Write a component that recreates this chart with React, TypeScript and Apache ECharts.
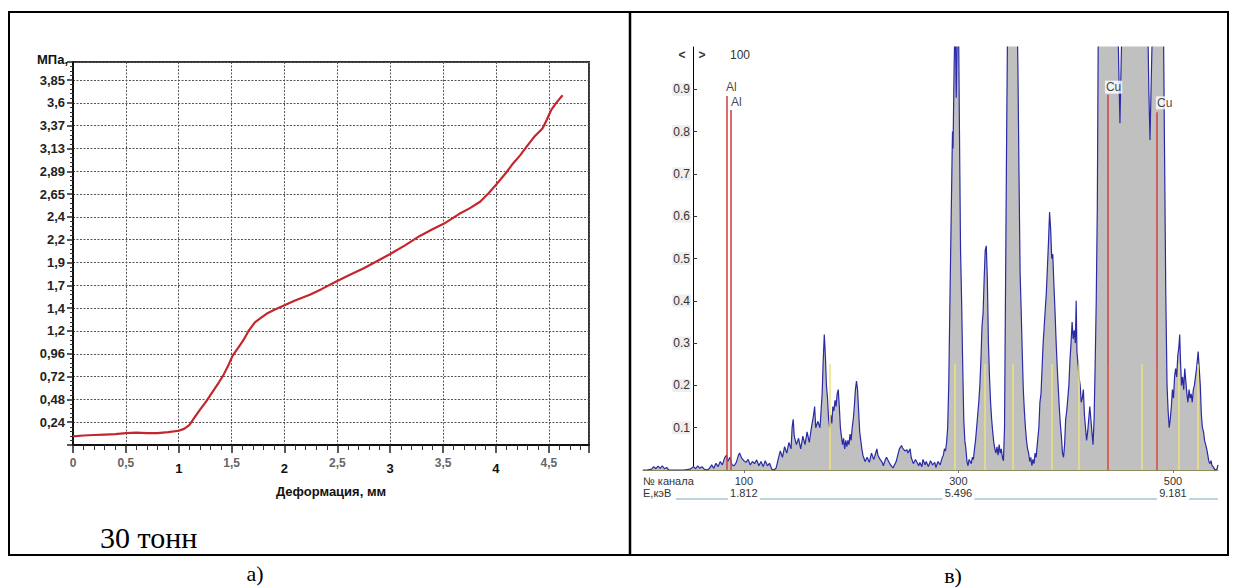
import { useEffect, useRef } from 'react';
import * as echarts from 'echarts';

// ---------- Panel a) : stress vs deformation ----------
const deformation = [0, 0.1, 0.2, 0.3, 0.4, 0.5, 0.6, 0.7, 0.8, 0.9, 1.0, 1.05, 1.1, 1.15, 1.2, 1.26, 1.32, 1.38, 1.42, 1.47, 1.51, 1.56, 1.61, 1.66, 1.72, 1.78, 1.83, 1.9, 2.0, 2.1, 2.24, 2.35, 2.49, 2.6, 2.75, 2.9, 3.0, 3.14, 3.28, 3.4, 3.51, 3.65, 3.75, 3.85, 3.93, 4.01, 4.1, 4.16, 4.23, 4.29, 4.36, 4.44, 4.48, 4.52, 4.57, 4.63];
const stress = [0.09, 0.1, 0.105, 0.11, 0.115, 0.125, 0.13, 0.125, 0.125, 0.135, 0.15, 0.17, 0.21, 0.29, 0.37, 0.46, 0.56, 0.66, 0.73, 0.84, 0.94, 1.02, 1.1, 1.2, 1.29, 1.34, 1.38, 1.42, 1.47, 1.52, 1.58, 1.64, 1.72, 1.78, 1.86, 1.95, 2.01, 2.1, 2.2, 2.27, 2.33, 2.43, 2.49, 2.56, 2.65, 2.75, 2.87, 2.96, 3.05, 3.14, 3.24, 3.33, 3.42, 3.52, 3.6, 3.68];
const stressTickLabels = ['0,24', '0,48', '0,72', '0,96', '1,2', '1,4', '1,7', '1,9', '2,2', '2,4', '2,65', '2,89', '3,13', '3,37', '3,6', '3,85'];
const deformTickLabels = ['0', '0,5', '1', '1,5', '2', '2,5', '3', '3,5', '4', '4,5'];

// ---------- Panel в) : EDS spectrum ----------
const spectrum: [number, number][] = [
  [6, 0], [10, 0], [14, 0.002], [16, 0.008], [18, 0.003], [20, 0.009], [22, 0.004], [24, 0.01], [26, 0.003], [28, 0.006], [30, 0], [36, 0], [44, 0], [50, 0.002], [53, 0.008], [55, 0.003], [57, 0.01], [59, 0.004], [61, 0.008], [63, 0.002], [66, 0], [68, 0.004],
  [70, 0.012], [72, 0.004], [74, 0.016], [76, 0.008], [78, 0.02], [80, 0.012], [82, 0.028], [84, 0.036], [85, 0.02], [87, 0.03], [89, 0.012], [91, 0.01], [93, 0.018], [95, 0.035], [96, 0.04], [98, 0.028], [100, 0.022], [102, 0.018], [104, 0.025], [106, 0.012], [108, 0.02], [110, 0.015], [112, 0.024], [114, 0.01], [116, 0.02], [118, 0.008], [120, 0.022], [122, 0.01], [124, 0.016], [126, 0.002], [128, 0], [130, 0.004],
  [132, 0.025], [134, 0.045], [136, 0.03], [138, 0.055], [140, 0.04], [142, 0.065], [144, 0.05], [145, 0.1], [146, 0.12], [147, 0.08], [149, 0.06], [151, 0.075], [153, 0.05], [155, 0.08], [157, 0.06], [159, 0.09], [161, 0.065], [163, 0.1], [165, 0.13], [166, 0.15], [167, 0.1], [169, 0.115], [171, 0.1], [172, 0.14], [173, 0.18], [174, 0.26], [175, 0.32], [176, 0.27], [177, 0.2],
  [178, 0.17], [179, 0.12], [180, 0.1], [181, 0.13], [182, 0.11], [183, 0.15], [184, 0.14], [185, 0.165], [186, 0.15], [187, 0.18], [188, 0.19], [189, 0.15], [190, 0.1], [191, 0.08], [192, 0.06], [193, 0.075], [194, 0.05], [195, 0.07], [196, 0.055], [197, 0.07], [198, 0.06], [199, 0.085], [200, 0.07], [201, 0.1], [202, 0.12], [203, 0.15], [204, 0.19], [205, 0.21], [206, 0.19], [207, 0.14], [208, 0.09], [209, 0.07], [210, 0.05], [211, 0.035],
  [213, 0.02], [215, 0.03], [217, 0.018], [219, 0.04], [221, 0.025], [222, 0.032], [224, 0.05], [225, 0.035], [227, 0.025], [229, 0.018], [230, 0.01], [232, 0.025], [233, 0.03], [235, 0.02], [236, 0.015], [238, 0.008], [239, 0.005], [241, 0.015], [242, 0.02], [244, 0.04], [245, 0.05], [247, 0.058], [248, 0.052], [250, 0.045], [252, 0.048], [253, 0.04], [255, 0.05], [256, 0.03], [258, 0.015], [260, 0.025], [261, 0.02], [263, 0.01], [264, 0.018], [266, 0.008], [267, 0.025], [269, 0.012], [270, 0.02], [272, 0.008], [274, 0.022], [276, 0.012], [278, 0.018], [279, 0.006], [281, 0.02], [283, 0.012], [285, 0.03], [286, 0.035], [287, 0.05], [288, 0.045], [289, 0.065], [290, 0.1],
  [291, 0.2], [292, 0.38], [293, 0.55], [294, 0.72], [294.5, 0.8], [295, 0.76], [296, 0.95], [297, 1.08], [298, 0.88], [299, 1.05], [300, 1.1], [301, 0.8], [302, 0.52], [303, 0.4], [304, 0.25], [305, 0.12], [306, 0.07], [307, 0.05], [308, 0.02], [309, 0.01], [310, 0.025],
  [312, 0.015], [313, 0.03], [314, 0.025], [315, 0.05], [316, 0.07], [317, 0.1], [318, 0.13], [319, 0.16], [320, 0.2], [321, 0.26], [322, 0.34], [323, 0.37], [324, 0.45], [325, 0.52], [326, 0.53], [327, 0.45], [328, 0.3], [329, 0.22], [330, 0.16], [331, 0.12], [332, 0.09], [333, 0.065], [334, 0.05], [335, 0.04], [336, 0.055], [337, 0.035], [338, 0.06], [339, 0.04], [340, 0.05], [341, 0.03], [342, 0.022],
  [343, 0.1], [344, 0.45], [345, 0.8], [346, 1.1], [348, 1.3], [350, 1.4], [352, 1.35], [354, 1.2], [355.5, 0.95], [356.5, 0.7], [357.5, 0.47], [358.5, 0.38], [359.5, 0.28], [360.5, 0.19], [361.5, 0.14], [362.5, 0.1], [363.5, 0.07], [364.5, 0.05], [365.5, 0.04], [366.5, 0.02], [367.5, 0.03], [368.5, 0.01], [369.5, 0.025], [370.5, 0.015], [371.5, 0.04], [372.5, 0.03], [373.5, 0.06],
  [375, 0.1], [376, 0.16], [377, 0.18], [378, 0.24], [379, 0.3], [380, 0.34], [381, 0.38], [382, 0.42], [383, 0.48], [384, 0.54], [385, 0.61], [386, 0.57], [387, 0.5], [388, 0.51], [389, 0.44], [390, 0.38], [391, 0.31], [392, 0.25], [393, 0.2], [394, 0.15], [395, 0.11], [396, 0.08], [397, 0.04], [398, 0.03],
  [399, 0.06], [400, 0.12], [401, 0.14], [402, 0.17], [403, 0.2], [404, 0.26], [405, 0.3], [406, 0.35], [407, 0.31], [408, 0.33], [409, 0.3], [409.8, 0.4], [410.5, 0.28], [411.5, 0.25], [412.5, 0.22], [413.5, 0.2], [414.5, 0.16], [415.5, 0.17], [416.5, 0.19], [417.5, 0.13], [418.5, 0.1], [419.5, 0.07], [420.5, 0.09], [421.5, 0.12], [422.5, 0.15], [423.5, 0.12], [424.5, 0.09], [425.5, 0.06], [426.5, 0.12], [427.5, 0.25], [428.5, 0.4], [429.5, 0.62], [430.5, 1.1],
  [431.5, 1.3], [436, 1.5], [442, 1.6], [447, 1.3], [449.5, 0.95], [450.6, 0.82], [452, 1.0], [456, 1.4], [462, 1.7], [468, 1.8], [474, 1.5], [477.5, 0.9], [478.6, 0.78], [480, 0.95], [484, 1.4], [488, 1.3], [491, 1.1], [492, 0.8], [493.3, 0.42], [494.5, 0.2], [495.5, 0.14], [496.5, 0.1], [497.5, 0.12], [498.5, 0.15], [499.5, 0.19], [500.5, 0.17], [501.5, 0.22], [502.5, 0.24], [503.5, 0.22], [504.5, 0.27], [505.5, 0.29], [506.3, 0.32], [507, 0.26], [508, 0.2], [509, 0.22], [510, 0.19], [511, 0.24], [512, 0.21], [513, 0.18], [514, 0.16], [515, 0.19], [516, 0.17], [517, 0.18], [518, 0.16], [519, 0.19], [520, 0.2], [521, 0.22], [522, 0.24], [523.5, 0.28], [524.5, 0.24], [525.5, 0.2], [526.5, 0.13], [527.5, 0.1], [528.5, 0.09], [529.5, 0.07], [530.5, 0.06], [531.5, 0.05], [532.5, 0.035], [533.5, 0.02], [534.5, 0.015], [535.5, 0.022], [536.5, 0.01], [537.5, 0.008], [538.5, 0.003], [539.5, 0], [541, 0.002], [542, 0.012],
];
const channelTicks = [100, 300, 500];
const energyTicks = ['1.812', '5.496', '9.181'];
const spectrumYTicks = [0.1, 0.2, 0.3, 0.4, 0.5, 0.6, 0.7, 0.8, 0.9];
const yellowLineChannels = [180.3, 296.8, 324.8, 350.9, 387.2, 412.4, 439.4, 471.1, 485.1, 505.8, 523.3];
const yellowLineTop = 0.25;
const elementNames = ['Al', 'Al', 'Cu', 'Cu'];
const elementChannels = [84.3, 88, 439.4, 485.1];
const elementLineTops = [0.884, 0.851, 0.887, 0.846];
const elementLabelChannels = [82.4, 87.1, 436.6, 484.2];
const elementLabelHeights = [0.905, 0.87, 0.905, 0.868];

const SANS = '"Liberation Sans", Arial, sans-serif';
const SERIF = '"Liberation Serif", "Times New Roman", serif';

function txt(text: string, x: number, y: number, font: string, align: string = 'left', fill = '#000') {
  return {
    type: 'text', x, y, silent: true,
    style: { text, font, fill, align, textAlign: align, verticalAlign: 'middle', textVerticalAlign: 'middle' },
  };
}
function ln(x1: number, y1: number, x2: number, y2: number, stroke = '#000', lineWidth = 2) {
  return { type: 'line', silent: true, shape: { x1, y1, x2, y2 }, style: { stroke, lineWidth } };
}

export default function App() {
  const ref = useRef<HTMLDivElement>(null);
  useEffect(() => {
    const chart = echarts.init(ref.current!, null, { renderer: 'svg' });
    const option: any = {
      animation: false,
      backgroundColor: '#fff',
      grid: [
        { left: 73, top: 62, width: 516, height: 383, show: true, borderColor: '#333', borderWidth: 2, backgroundColor: 'transparent' },
        { left: 643, top: 47, width: 575, height: 423 },
      ],
      xAxis: [
        {
          gridIndex: 0, type: 'value', min: 0, max: 4.88, interval: 0.5,
          axisLine: { lineStyle: { color: '#111', width: 2 } },
          axisTick: { length: 8, lineStyle: { color: '#222', width: 1.5 } },
          minorTick: { show: true, splitNumber: 5, length: 5, lineStyle: { color: '#333', width: 1 } },
          splitLine: { show: true, lineStyle: { type: [2, 1.5], color: '#555', width: 1 } },
          axisLabel: {
            margin: 12,
            formatter: (v: number) => {
              const i = Math.round(v / 0.5);
              if (Math.abs(v - i * 0.5) > 1e-6 || i >= deformTickLabels.length) return '';
              const s = deformTickLabels[i];
              return i > 0 && i % 2 === 0 ? `{i|${s}}` : `{h|${s}}`;
            },
            rich: {
              h: { fontFamily: SANS, fontSize: 12, fontWeight: 'bold', color: '#666' },
              i: { fontFamily: SANS, fontSize: 13, fontWeight: 'bold', color: '#111', padding: [5, 0, 0, 0] },
            },
          },
        },
        {
          gridIndex: 1, type: 'value', min: 6, max: 542,
          axisLine: { onZero: false, lineStyle: { color: '#8c8c5c', width: 1 } },
          axisTick: { customValues: channelTicks, length: 3, lineStyle: { color: '#777' } },
          splitLine: { show: false },
          axisLabel: {
            customValues: channelTicks, margin: 5,
            formatter: (v: number) => {
              const i = channelTicks.indexOf(Math.round(v));
              return i < 0 ? '' : `{a|${channelTicks[i]}}\n{b|${energyTicks[i]}}`;
            },
            rich: {
              a: { fontFamily: SANS, fontSize: 11, color: '#333', lineHeight: 12 },
              b: { fontFamily: SANS, fontSize: 11, color: '#333', lineHeight: 12 },
            },
          },
        },
      ],
      yAxis: [
        {
          gridIndex: 0, type: 'value', min: 0, max: 4.03, interval: 0.24,
          axisLine: { lineStyle: { color: '#111', width: 2 } },
          axisTick: { length: 6, lineStyle: { color: '#222', width: 1.5 } },
          minorTick: { show: true, splitNumber: 5, length: 3, lineStyle: { color: '#333', width: 1 } },
          splitLine: { show: true, lineStyle: { type: [2, 1.5], color: '#555', width: 1 } },
          axisLabel: {
            margin: 8, fontFamily: SANS, fontSize: 13, fontWeight: 'bold', color: '#222',
            formatter: (v: number) => {
              const i = Math.round(v / 0.24);
              if (Math.abs(v - i * 0.24) > 1e-6 || i < 1 || i > stressTickLabels.length) return '';
              return stressTickLabels[i - 1];
            },
          },
        },
        {
          gridIndex: 1, type: 'value', min: 0, max: 1, offset: -50,
          axisLine: { show: true, onZero: false, lineStyle: { color: '#000', width: 1 } },
          axisTick: { show: true, customValues: spectrumYTicks, inside: true, length: 4, lineStyle: { color: '#333' } },
          splitLine: { show: false },
          axisLabel: {
            customValues: spectrumYTicks, margin: 2,
            fontFamily: SANS, fontSize: 12, color: '#333',
            backgroundColor: '#eeeeee', padding: [1, 1, 0, 1],
            formatter: (v: number) => v.toFixed(1),
          },
        },
      ],
      series: [
        {
          type: 'line', xAxisIndex: 0, yAxisIndex: 0,
          data: deformation.map((d, i) => [d, stress[i]]),
          symbol: 'none', lineStyle: { color: '#c4262e', width: 2.2 }, z: 5,
        },
        {
          type: 'line', xAxisIndex: 1, yAxisIndex: 1,
          data: spectrum, symbol: 'none', clip: true,
          lineStyle: { color: '#2a2aa6', width: 1.2 },
          areaStyle: { color: '#c0c0c0', opacity: 1 },
          markLine: {
            silent: true, symbol: 'none', label: { show: false },
            data: [
              ...yellowLineChannels.map((c) => [
                { coord: [c, 0], lineStyle: { color: '#eee27c', width: 1.5, type: 'solid' } },
                { coord: [c, yellowLineTop] },
              ]),
              ...elementChannels.map((c, i) => [
                { coord: [c, 0], lineStyle: { color: '#d04848', width: 1.6, type: 'solid' } },
                { coord: [c, elementLineTops[i]] },
              ]),
            ],
          },
        },
        {
          type: 'scatter', xAxisIndex: 1, yAxisIndex: 1, symbolSize: 0, silent: true,
          data: elementNames.map((n, i) => [elementLabelChannels[i], elementLabelHeights[i], n]),
          label: {
            show: true, position: 'right', distance: 0,
            formatter: (p: any) => p.data[2],
            fontFamily: SANS, fontSize: 12, color: '#111',
            backgroundColor: '#fff', padding: [1, 1, 0, 1],
          },
          z: 6,
        },
      ],
    };
    chart.setOption(option);

    const cx = channelTicks.map((c) => (chart.convertToPixel({ gridIndex: 1 } as any, [c, 0]) as number[])[0]);
    const ULY = 499;
    const UL = '#78aab4';
    const underline = [
      ln(676, ULY, cx[0] - 16, ULY, UL, 1),
      ln(cx[0] + 16, ULY, cx[1] - 16, ULY, UL, 1),
      ln(cx[1] + 16, ULY, cx[2] - 16, ULY, UL, 1),
      ln(cx[2] + 16, ULY, 1218, ULY, UL, 1),
    ];

    chart.setOption({
      graphic: {
        elements: [
          ln(8, 12, 1229, 12), ln(8, 555, 1229, 555), ln(9, 12, 9, 555), ln(1228, 12, 1228, 555), ln(630, 12, 630, 555, '#000', 2.5),
          txt('МПа,', 68, 59, `bold 13px ${SANS}`, 'right', '#111'),
          txt('Деформация, мм', 331, 491, `bold 13px ${SANS}`, 'center', '#111'),
          txt('30 тонн', 100, 537, `30px ${SERIF}`, 'left', '#000'),
          txt('а)', 255, 573, `22px ${SERIF}`, 'center', '#000'),
          txt('в)', 953, 575, `22px ${SERIF}`, 'center', '#000'),
          txt('<', 682, 55, `bold 12px ${SANS}`, 'center', '#333'),
          txt('>', 702, 55, `bold 12px ${SANS}`, 'center', '#333'),
          txt('100', 730, 55, `12px ${SANS}`, 'left', '#333'),
          txt('№ канала', 643, 481, `11px ${SANS}`, 'left', '#333'),
          txt('E,кэВ', 643, 493, `11px ${SANS}`, 'left', '#333'),
          ...underline,
        ],
      },
    });
    return () => chart.dispose();
  }, []);
  return <div ref={ref} style={{ position: 'absolute', left: 0, top: 0, width: 1236, height: 588, background: '#fff' }} />;
}
